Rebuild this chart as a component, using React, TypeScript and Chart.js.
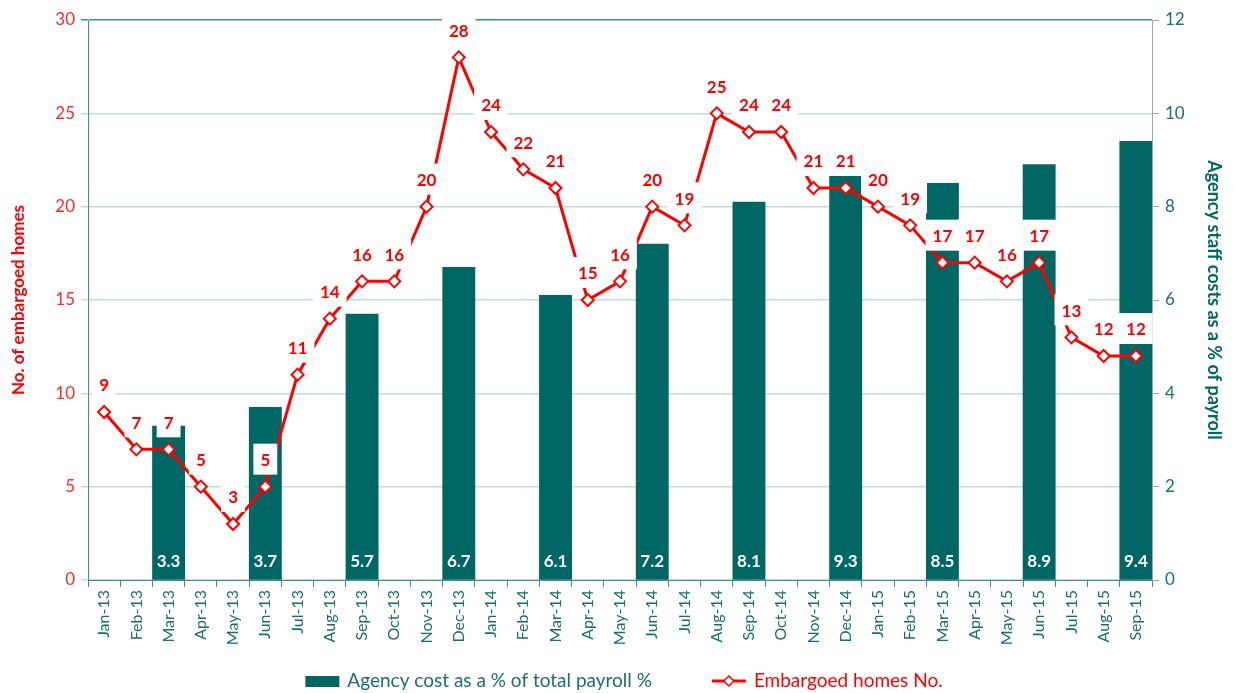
import React, { useEffect, useRef } from 'react';
import { Chart, registerables } from 'chart.js';

Chart.register(...registerables);

const months = [
  'Jan-13', 'Feb-13', 'Mar-13', 'Apr-13', 'May-13', 'Jun-13', 'Jul-13', 'Aug-13', 'Sep-13', 'Oct-13', 'Nov-13', 'Dec-13',
  'Jan-14', 'Feb-14', 'Mar-14', 'Apr-14', 'May-14', 'Jun-14', 'Jul-14', 'Aug-14', 'Sep-14', 'Oct-14', 'Nov-14', 'Dec-14',
  'Jan-15', 'Feb-15', 'Mar-15', 'Apr-15', 'May-15', 'Jun-15', 'Jul-15', 'Aug-15', 'Sep-15',
];

const embargoedHomes = [9, 7, 7, 5, 3, 5, 11, 14, 16, 16, 20, 28, 24, 22, 21, 15, 16, 20, 19, 25, 24, 24, 21, 21, 20, 19, 17, 17, 16, 17, 13, 12, 12];

const agencyCostPct: (number | null)[] = [
  null, null, 3.3, null, null, 3.7, null, null, 5.7, null, null, 6.7,
  null, null, 6.1, null, null, 7.2, null, null, 8.1, null, null, 9.3,
  null, null, 8.5, null, null, 8.9, null, null, 9.4,
];

const barLabel = 'Agency cost as a % of total payroll %';
const lineLabel = 'Embargoed homes No.';
const leftTitle = 'No. of embargoed homes';
const rightTitle = 'Agency staff costs as a % of payroll';

const TEAL = '#006764';
const RED = '#ff0000';
const FONT = 'Lato, "Open Sans", sans-serif';

const labelPlugin = {
  id: 'valueLabels',
  afterDatasetsDraw(chart: any) {
    const ctx = chart.ctx;
    const yScale = chart.scales.y;
    ctx.save();
    // bar labels
    const barMeta = chart.getDatasetMeta(0);
    ctx.font = `bold 17px ${FONT}`;
    ctx.textAlign = 'center';
    ctx.textBaseline = 'middle';
    ctx.fillStyle = '#ffffff';
    barMeta.data.forEach((el: any, i: number) => {
      const v = agencyCostPct[i];
      if (v == null) return;
      ctx.fillText(v.toFixed(1), el.x, yScale.bottom - 18);
    });
    // line labels
    const lineMeta = chart.getDatasetMeta(1);
    lineMeta.data.forEach((el: any, i: number) => {
      const txt = String(embargoedHomes[i]);
      const w = ctx.measureText(txt).width;
      const cy = el.y - 26;
      ctx.fillStyle = '#ffffff';
      ctx.fillRect(el.x - w / 2 - 7, cy - 17, w + 14, 31);
      ctx.fillStyle = RED;
      ctx.fillText(txt, el.x, cy);
    });
    ctx.restore();
  },
};

const legendPlugin = {
  id: 'customLegend',
  afterDraw(chart: any) {
    const ctx = chart.ctx;
    ctx.save();
    ctx.font = `19px ${FONT}`;
    ctx.textBaseline = 'middle';
    ctx.textAlign = 'left';
    const sw = 34;
    const gap = 8;
    const between = 60;
    const w1 = ctx.measureText(barLabel).width;
    const w2 = ctx.measureText(lineLabel).width;
    const total = sw + gap + w1 + between + sw + gap + w2;
    const cx = 624;
    const y = 681;
    let x = cx - total / 2;
    ctx.fillStyle = TEAL;
    ctx.fillRect(x, y - 5, sw, 11);
    x += sw + gap;
    ctx.fillStyle = '#1a7070';
    ctx.fillText(barLabel, x, y);
    x += w1 + between;
    ctx.strokeStyle = RED;
    ctx.lineWidth = 3;
    ctx.beginPath();
    ctx.moveTo(x, y);
    ctx.lineTo(x + sw, y);
    ctx.stroke();
    ctx.lineWidth = 1.5;
    ctx.fillStyle = '#ffffff';
    ctx.beginPath();
    const mx = x + sw / 2;
    ctx.moveTo(mx, y - 5);
    ctx.lineTo(mx + 5, y);
    ctx.lineTo(mx, y + 5);
    ctx.lineTo(mx - 5, y);
    ctx.closePath();
    ctx.fill();
    ctx.stroke();
    x += sw + gap;
    ctx.fillStyle = RED;
    ctx.fillText(lineLabel, x, y);
    ctx.restore();
  },
};

export default function App() {
  const ref = useRef<HTMLCanvasElement>(null);
  useEffect(() => {
    document.body.style.margin = '0';
    const chart = new Chart(ref.current as HTMLCanvasElement, {
      type: 'bar',
      data: {
        labels: months,
        datasets: [
          {
            type: 'bar',
            label: barLabel,
            data: agencyCostPct as any,
            backgroundColor: TEAL,
            yAxisID: 'y1',
            barPercentage: 1,
            categoryPercentage: 1,
            order: 2,
          },
          {
            type: 'line',
            label: lineLabel,
            data: embargoedHomes,
            borderColor: RED,
            borderWidth: 3,
            pointStyle: 'rectRot',
            pointRadius: 6,
            pointBorderWidth: 2,
            pointBackgroundColor: '#ffffff',
            pointBorderColor: RED,
            yAxisID: 'y',
            tension: 0,
            order: 1,
          } as any,
        ],
      },
      options: {
        responsive: false,
        animation: false,
        layout: { padding: { top: 20, bottom: 40, left: 0, right: 0 } },
        plugins: {
          legend: { display: false },
          tooltip: { enabled: false },
        },
        scales: {
          x: {
            offset: true,
            grid: { drawOnChartArea: false, color: '#3f8f8f', tickLength: 7, offset: true },
            border: { color: '#3f8f8f' },
            ticks: { color: '#1a6e6e', font: { family: FONT, size: 16 }, maxRotation: 90, minRotation: 90, autoSkip: false },
            afterFit: (s: any) => { s.height = 73; },
          },
          y: {
            position: 'left',
            min: 0,
            max: 30,
            ticks: { stepSize: 5, color: '#ff2a2a', font: { family: FONT, size: 17 }, padding: 6 },
            grid: {
              color: (c: any) => (c.tick && c.tick.value === 30 ? '#3f8f8f' : '#c2dcdc'),
              lineWidth: 1.5,
              tickLength: 7,
            },
            border: { color: '#3f8f8f' },
            title: { display: true, text: leftTitle, color: RED, font: { family: FONT, size: 17, weight: 'bold' }, padding: { top: 8, bottom: 0 } },
            afterFit: (s: any) => { s.width = 88; },
          },
          y1: {
            position: 'right',
            min: 0,
            max: 12,
            ticks: { stepSize: 2, color: '#1a7070', font: { family: FONT, size: 17 }, padding: 6 },
            grid: { drawOnChartArea: false, color: '#a6a6a6', tickLength: 7 },
            border: { color: '#a6a6a6' },
            title: { display: true, text: rightTitle, color: TEAL, font: { family: FONT, size: 18, weight: 'bold' }, padding: { top: 10, bottom: 0 } },
            afterFit: (s: any) => { s.width = 83; },
          },
        },
      },
      plugins: [labelPlugin, legendPlugin],
    });
    return () => chart.destroy();
  }, []);
  return (
    <div style={{ position: 'absolute', left: 0, top: 0, width: 1235, height: 693 }}>
      <canvas ref={ref} width={1235} height={693} />
    </div>
  );
}
